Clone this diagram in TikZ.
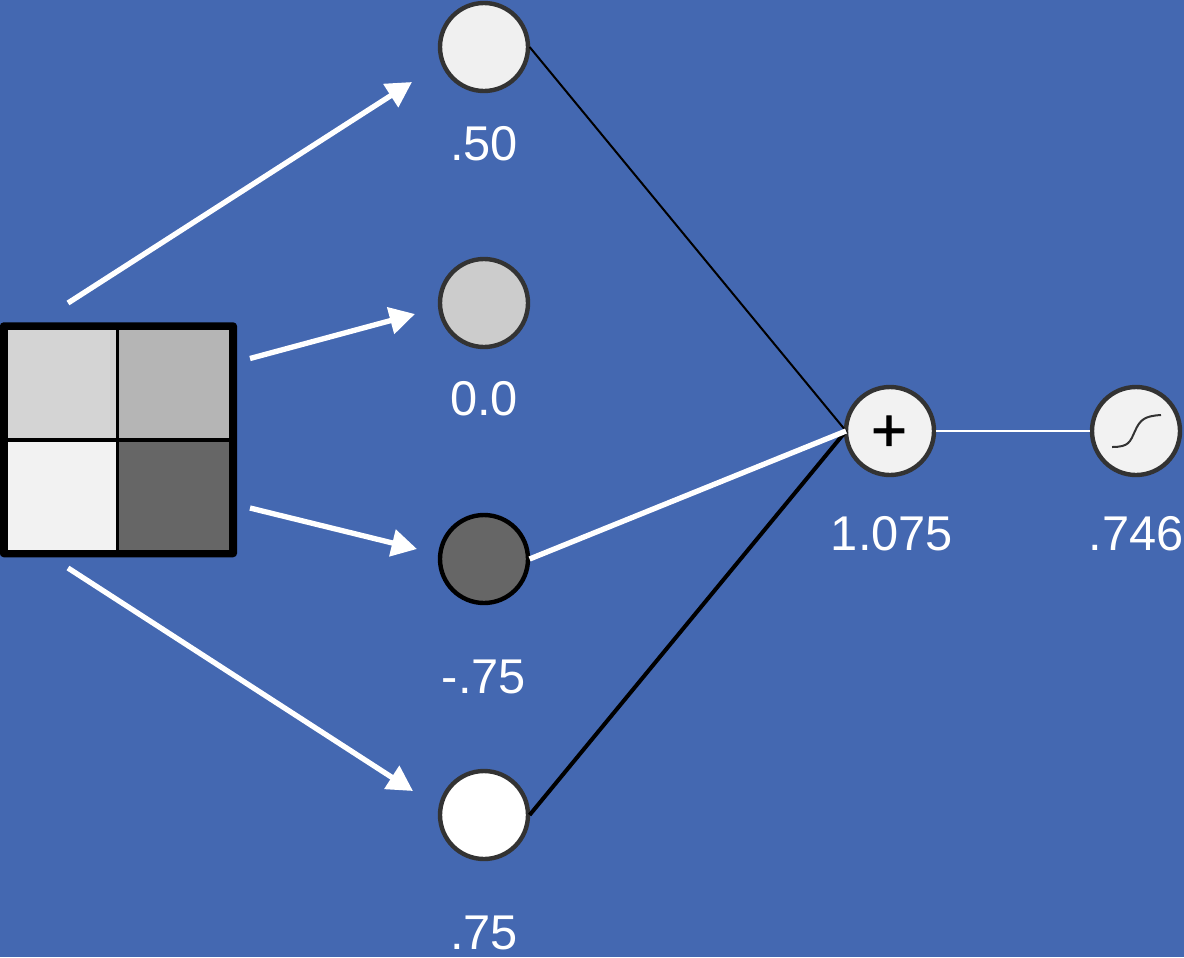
\documentclass[tikz,border=0pt]{standalone}
\usepackage{fontspec}
\setmainfont{Liberation Sans}
\newfontfamily\plusfont[FakeBold=1.2]{Liberation Sans}
\usetikzlibrary{arrows.meta}
\definecolor{bg}{HTML}{4468B1}
\definecolor{ring}{HTML}{333333}
\tikzset{
  neuron/.style={circle,draw=ring,line width=3.3pt,minimum size=66pt,inner sep=0pt,outer sep=1.2pt},
  val/.style={text=white,font=\fontsize{36.6}{36.6}\selectfont,inner sep=0pt,anchor=base},
  cell/.style={draw=none,inner sep=0pt,anchor=north west},
  feed/.style={draw=white,line width=4pt,-{Triangle[length=19pt,width=20pt,fill=white]}},
}
\begin{document}
\begin{tikzpicture}[x=0.75pt,y=-0.75pt]
\useasboundingbox (0,0) rectangle (1184,957);
\fill[bg] (0,0) rectangle (1184,957);
% image grid
\node[cell,fill=black,rounded corners=3pt,minimum width=178pt,minimum height=176.25pt] (grid) at (-0.5,322) {};
\node[cell,fill=black!17,minimum width=81pt,minimum height=81pt] (c11) at (7.5,330) {};
\node[cell,fill=black!29,minimum width=83pt,minimum height=81pt] (c12) at (118.3,330) {};
\node[cell,fill=black!5,minimum width=81pt,minimum height=81pt] (c21) at (7.5,441.3) {};
\node[cell,fill=black!60,minimum width=83pt,minimum height=81pt] (c22) at (118.3,441.3) {};
% neurons
\node[neuron,fill=black!6] (n1) at (484,47) {};
\node[neuron,fill=black!20] (n2) at (484,303) {};
\node[neuron,fill=black!60,draw=black] (n3) at (484,559) {};
\node[neuron,fill=white] (n4) at (484,815) {};
\node[neuron,fill=black!5] (sum) at (890,431) {};
\node[neuron,fill=black!5] (act) at (1136,431) {};
\node[font=\plusfont\fontsize{46}{46}\selectfont,inner sep=0pt] (plus) at (889,433.5) {+};
% sigmoid glyph
\draw[line width=1.5pt,draw=ring] (1112,447) .. controls (1129,447) and (1130,442) .. (1135,431) .. controls (1140,420) and (1144,416) .. (1161,415);
% connectors
\coordinate (a1s) at (68,303); \coordinate (a1e) at (412,82);
\coordinate (a2s) at (250,358.5); \coordinate (a2e) at (415,314);
\coordinate (a3s) at (250,508); \coordinate (a3e) at (417,549);
\coordinate (a4s) at (68,568); \coordinate (a4e) at (413,791);
\draw[feed] (a1s) -- (a1e);
\draw[feed] (a2s) -- (a2e);
\draw[feed] (a3s) -- (a3e);
\draw[feed] (a4s) -- (a4e);
\coordinate (hub) at (846,431);
\draw[black,line width=1.5pt] (n1.east) -- (hub);
\draw[black,line width=3pt] (n4.east) -- (hub);
\draw[white,line width=4pt] (n3.east) -- (hub);
\draw[white,line width=2pt] (sum.east) -- (act.west);
% labels
\node[val] (l1) at (484,160) {.50};
\node[val] (l2) at (484,415) {0.0};
\node[val] (l3) at (484,693) {-.75};
\node[val] (l4) at (484,949) {.75};
\node[val] (l5) at (892,550) {1.075};
\node[val] (l6) at (1136,550) {.746};
\end{tikzpicture}
\end{document}
